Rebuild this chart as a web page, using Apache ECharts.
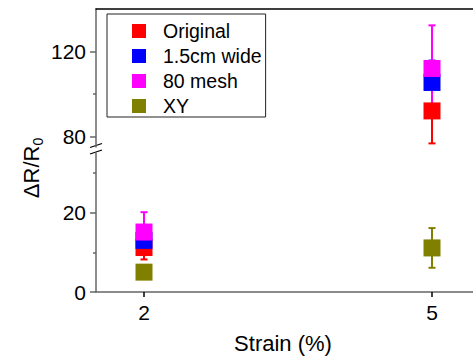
<!DOCTYPE html>
<html>
<head>
<meta charset="utf-8">
<script src="https://cdn.jsdelivr.net/npm/echarts@6/dist/echarts.min.js"></script>
<style>
  html, body { margin: 0; padding: 0; background: #fff; }
  #chart { width: 473px; height: 359px; }
</style>
</head>
<body>
<div id="chart"></div>
<script>
// strain values (x)
const strains = [2, 5];
const seriesNames = ['Original', '1.5cm wide', '80 mesh', 'XY'];
const seriesColors = ['#ff0000', '#0000ff', '#ff00ff', '#808000'];

// mean dR/R0 per strain
const originalVals = [11.2, 92.0];
const wideVals = [13.0, 105.4];
const meshVals = [15.1, 112.0];
const xyVals = [5.0, 11.1];

// error (+/-) per strain
const originalErr = [3.0, 15.3];
const wideErr = [2.0, 10.3];
const meshErr = [5.0, 20.3];
const xyErr = [1.5, 5.0];

const upperTicks = [80, 120];
const upperMinor = [100];
const lowerTicks = [0, 20];
const lowerMinor = [10, 30];

const allVals = [originalVals, wideVals, meshVals, xyVals];
const allErr = [originalErr, wideErr, meshErr, xyErr];
const BREAK = 50; // values above this sit in the upper panel

const font = 'Liberation Sans, Arial, sans-serif';
const axisGray = '#666';

const chart = echarts.init(document.getElementById('chart'), null, { renderer: 'svg' });

function errBar(params, api) {
    const x = api.value(0);
    const lo = api.coord([x, api.value(1)]);
    const hi = api.coord([x, api.value(2)]);
    const c = api.visual('color');
    const w = 3.5;
    const st = { stroke: c, lineWidth: 2 };
    return {
        type: 'group',
        children: [
            { type: 'line', shape: { x1: lo[0], y1: lo[1], x2: hi[0], y2: hi[1] }, style: st },
            { type: 'line', shape: { x1: lo[0] - w, y1: lo[1], x2: lo[0] + w, y2: lo[1] }, style: st },
            { type: 'line', shape: { x1: hi[0] - w, y1: hi[1], x2: hi[0] + w, y2: hi[1] }, style: st }
        ]
    };
}

const series = [];
seriesNames.forEach((name, i) => {
    [0, 1].forEach(panel => {
        const pts = [];
        const bars = [];
        strains.forEach((s, j) => {
            const v = allVals[i][j];
            const inUpper = v > BREAK;
            if ((panel === 0) !== inUpper) return;
            pts.push([s, v]);
            bars.push([s, v - allErr[i][j], v + allErr[i][j]]);
        });
        const xi = panel;
        const yi = panel === 0 ? 0 : 2;
        series.push({
            name: name,
            type: 'scatter',
            xAxisIndex: xi,
            yAxisIndex: yi,
            symbol: 'rect',
            symbolSize: 17,
            itemStyle: { color: seriesColors[i], opacity: 1 },
            data: pts,
            silent: true
        });
        series.push({
            name: name,
            type: 'custom',
            xAxisIndex: xi,
            yAxisIndex: yi,
            itemStyle: { color: seriesColors[i] },
            renderItem: errBar,
            encode: { x: 0, y: [1, 2] },
            data: bars,
            silent: true
        });
    });
});

chart.setOption({
    backgroundColor: '#fff',
    animation: false,
    textStyle: { fontFamily: font },
    grid: [
        { left: 96, width: 384, top: 9, height: 138, outerBoundsMode: 'none', containLabel: false },
        { left: 96, width: 384, top: 153, height: 139, outerBoundsMode: 'none', containLabel: false }
    ],
    xAxis: [
        {
            gridIndex: 0, type: 'value', min: 1.5, max: 5.5, position: 'top',
            axisLine: { show: true, lineStyle: { color: '#000', width: 1.5 } },
            axisTick: { show: false }, axisLabel: { show: false }, splitLine: { show: false }
        },
        {
            gridIndex: 1, type: 'value', min: 1.5, max: 5.5, position: 'bottom',
            axisLine: { show: true, lineStyle: { color: axisGray, width: 1.5 } },
            axisTick: { show: true, customValues: strains, length: 5, lineStyle: { color: '#000', width: 1.5 } },
            axisLabel: { customValues: strains, fontSize: 21, color: '#000', margin: 10, fontFamily: font },
            splitLine: { show: false },
            name: 'Strain (%)', nameLocation: 'middle', nameGap: 40,
            nameTextStyle: { fontSize: 22, color: '#000', fontFamily: font, padding: [0, 10, 0, 0] }
        }
    ],
    yAxis: [
        {
            gridIndex: 0, type: 'value', min: 75, max: 140,
            axisLine: { show: true, lineStyle: { color: axisGray, width: 1.5 } },
            axisTick: { show: true, customValues: upperTicks, length: 6, lineStyle: { color: axisGray, width: 1.5 } },
            axisLabel: { customValues: upperTicks, fontSize: 21, color: '#000', margin: 10, fontFamily: font },
            splitLine: { show: false }
        },
        {
            gridIndex: 0, type: 'value', min: 75, max: 140, position: 'left',
            axisLine: { show: false },
            axisTick: { show: true, customValues: upperMinor, length: 3, lineStyle: { color: axisGray, width: 1.5 } },
            axisLabel: { show: false }, splitLine: { show: false }
        },
        {
            gridIndex: 1, type: 'value', min: 0, max: 35,
            axisLine: { show: true, lineStyle: { color: axisGray, width: 1.5 } },
            axisTick: { show: true, customValues: lowerTicks, length: 6, lineStyle: { color: axisGray, width: 1.5 } },
            axisLabel: { customValues: lowerTicks, fontSize: 21, color: '#000', margin: 10, fontFamily: font },
            splitLine: { show: false }
        },
        {
            gridIndex: 1, type: 'value', min: 0, max: 35, position: 'left',
            axisLine: { show: false },
            axisTick: { show: true, customValues: lowerMinor, length: 3, lineStyle: { color: axisGray, width: 1.5 } },
            axisLabel: { show: false }, splitLine: { show: false }
        }
    ],
    legend: {
        orient: 'vertical',
        left: 107, top: 14,
        data: seriesNames,
        icon: 'rect',
        itemWidth: 14, itemHeight: 14, itemGap: 5,
        padding: [7, 4, 1, 25],
        borderColor: '#222', borderWidth: 1,
        textStyle: { fontSize: 19.5, lineHeight: 19, color: '#000', fontFamily: font, padding: [0, 0, 0, 12] }
    },
    graphic: [
        {
            type: 'text', x: 31, y: 168, rotation: Math.PI / 2,
            style: {
                text: '{a|ΔR/R}{b|0}',
                align: 'center', verticalAlign: 'middle',
                rich: {
                    a: { fontSize: 22, fontFamily: font, fill: '#000' },
                    b: { fontSize: 14, fontFamily: font, fill: '#000', padding: [14, 0, 0, 0] }
                }
            }
        },
        { type: 'line', shape: { x1: 90, y1: 147.5, x2: 102, y2: 143.5 }, style: { stroke: '#000', lineWidth: 1.2 } },
        { type: 'line', shape: { x1: 90, y1: 154, x2: 102, y2: 150 }, style: { stroke: '#000', lineWidth: 1.2 } }
    ],
    series: series
});
</script>
</body>
</html>
